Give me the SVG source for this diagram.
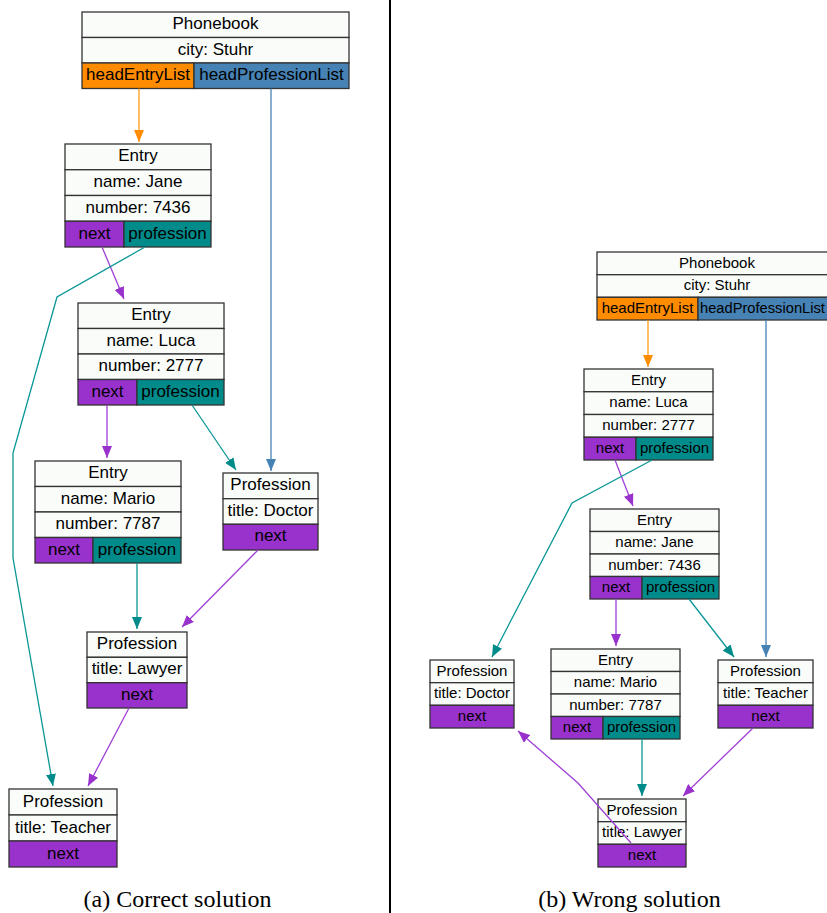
<svg xmlns="http://www.w3.org/2000/svg" width="827" height="913" viewBox="0 0 827 913">
<style>
.c{fill:#f9fcf9;stroke:#333;stroke-width:1.3}
.o{fill:#ff8c00;stroke:#333;stroke-width:1.3}
.b{fill:#4682b4;stroke:#333;stroke-width:1.3}
.p{fill:#9932cc;stroke:#333;stroke-width:1.3}
.t{fill:#008b8b;stroke:#333;stroke-width:1.3}
text{font-family:"Liberation Sans",Arial,sans-serif;fill:#000;text-anchor:middle}
.L text{font-size:17px}
.R text{font-size:15px}
.cap{font-family:"Liberation Serif","Times New Roman",serif;font-size:24px}
.e{fill:none;stroke-width:1.3}
.eo{stroke:#ff9a1a;marker-end:url(#mo)}
.eb{stroke:#4682b4;marker-end:url(#mb)}
.ep{stroke:#a040d8;marker-end:url(#mp)}
.et{stroke:#0a9696;marker-end:url(#mt)}
</style>
<defs>
<marker id="mo" markerUnits="userSpaceOnUse" markerWidth="12" markerHeight="10" refX="12" refY="5" orient="auto"><path d="M0,0L12,5L0,10z" fill="#ff8c00"/></marker>
<marker id="mb" markerUnits="userSpaceOnUse" markerWidth="12" markerHeight="10" refX="12" refY="5" orient="auto"><path d="M0,0L12,5L0,10z" fill="#4682b4"/></marker>
<marker id="mp" markerUnits="userSpaceOnUse" markerWidth="12" markerHeight="10" refX="12" refY="5" orient="auto"><path d="M0,0L12,5L0,10z" fill="#9932cc"/></marker>
<marker id="mt" markerUnits="userSpaceOnUse" markerWidth="12" markerHeight="10" refX="12" refY="5" orient="auto"><path d="M0,0L12,5L0,10z" fill="#008b8b"/></marker>
</defs>
<rect width="827" height="913" fill="#fff"/>
<line x1="390" y1="0" x2="390" y2="913" stroke="#000" stroke-width="2"/>

<g class="L">
<g id="a-phonebook">
<rect class="c" x="82" y="12" width="267" height="25.5"/>
<rect class="c" x="82" y="37.5" width="267" height="25.5"/>
<rect class="o" x="82" y="63" width="112" height="25.5"/>
<rect class="b" x="194" y="63" width="155" height="25.5"/>
<text x="215.5" y="29">Phonebook</text>
<text x="215.5" y="54.5">city: Stuhr</text>
<text x="138" y="80">headEntryList</text>
<text x="271.5" y="80">headProfessionList</text>
</g>
<g id="a-entry-jane">
<rect class="c" x="65" y="144" width="146" height="25.75"/>
<rect class="c" x="65" y="169.75" width="146" height="25.75"/>
<rect class="c" x="65" y="195.5" width="146" height="25.75"/>
<rect class="p" x="65" y="221.25" width="59" height="25.75"/>
<rect class="t" x="124" y="221.25" width="87" height="25.75"/>
<text x="138" y="161">Entry</text>
<text x="138" y="187">name: Jane</text>
<text x="138" y="212.5">number: 7436</text>
<text x="94.5" y="238.5">next</text>
<text x="167.5" y="238.5">profession</text>
</g>
<g id="a-entry-luca">
<rect class="c" x="78" y="303" width="146" height="25.5"/>
<rect class="c" x="78" y="328.5" width="146" height="25.5"/>
<rect class="c" x="78" y="354" width="146" height="25.5"/>
<rect class="p" x="78" y="379.5" width="59" height="25.5"/>
<rect class="t" x="137" y="379.5" width="87" height="25.5"/>
<text x="151" y="320">Entry</text>
<text x="151" y="345.5">name: Luca</text>
<text x="151" y="371">number: 2777</text>
<text x="107.5" y="396.5">next</text>
<text x="180.5" y="396.5">profession</text>
</g>
<g id="a-entry-mario">
<rect class="c" x="35" y="461" width="146" height="25.5"/>
<rect class="c" x="35" y="486.5" width="146" height="25.5"/>
<rect class="c" x="35" y="512" width="146" height="25.5"/>
<rect class="p" x="35" y="537.5" width="58" height="25.5"/>
<rect class="t" x="93" y="537.5" width="88" height="25.5"/>
<text x="108" y="478">Entry</text>
<text x="108" y="503.5">name: Mario</text>
<text x="108" y="529">number: 7787</text>
<text x="64" y="554.5">next</text>
<text x="137" y="554.5">profession</text>
</g>
<g id="a-prof-doctor">
<rect class="c" x="223" y="473" width="95" height="25.7"/>
<rect class="c" x="223" y="498.7" width="95" height="25.6"/>
<rect class="p" x="223" y="524.3" width="95" height="25.7"/>
<text x="270.5" y="490">Profession</text>
<text x="270.5" y="515.7">title: Doctor</text>
<text x="270.5" y="541.3">next</text>
</g>
<g id="a-prof-lawyer">
<rect class="c" x="87" y="632" width="100" height="25.3"/>
<rect class="c" x="87" y="657.3" width="100" height="25.4"/>
<rect class="p" x="87" y="682.7" width="100" height="25.3"/>
<text x="137" y="649">Profession</text>
<text x="137" y="674.3">title: Lawyer</text>
<text x="137" y="699.7">next</text>
</g>
<g id="a-prof-teacher">
<rect class="c" x="9" y="789" width="108" height="26"/>
<rect class="c" x="9" y="815" width="108" height="26"/>
<rect class="p" x="9" y="841" width="108" height="26"/>
<text x="63" y="806.5">Profession</text>
<text x="63" y="832.5">title: Teacher</text>
<text x="63" y="858.5">next</text>
</g>
</g>

<g class="R">
<g id="b-phonebook">
<rect class="c" x="597" y="252" width="240" height="22.7"/>
<rect class="c" x="597" y="274.7" width="240" height="22.6"/>
<rect class="o" x="597" y="297.3" width="101" height="22.7"/>
<rect class="b" x="698" y="297.3" width="139" height="22.7"/>
<text x="717" y="267.5">Phonebook</text>
<text x="717" y="290.2">city: Stuhr</text>
<text x="647.5" y="312.8">headEntryList</text>
<text x="700" y="312.8" style="text-anchor:start;font-size:14.7px">headProfessionList</text>
</g>
<g id="b-entry-luca">
<rect class="c" x="584" y="369" width="129" height="22.75"/>
<rect class="c" x="584" y="391.75" width="129" height="22.75"/>
<rect class="c" x="584" y="414.5" width="129" height="22.75"/>
<rect class="p" x="584" y="437.25" width="52" height="22.75"/>
<rect class="t" x="636" y="437.25" width="77" height="22.75"/>
<text x="648.5" y="384.5">Entry</text>
<text x="648.5" y="407.2">name: Luca</text>
<text x="648.5" y="430">number: 2777</text>
<text x="610" y="452.7">next</text>
<text x="674.5" y="452.7">profession</text>
</g>
<g id="b-entry-jane">
<rect class="c" x="590" y="509" width="129" height="22.5"/>
<rect class="c" x="590" y="531.5" width="129" height="22.5"/>
<rect class="c" x="590" y="554" width="129" height="22.5"/>
<rect class="p" x="590" y="576.5" width="52" height="22.5"/>
<rect class="t" x="642" y="576.5" width="77" height="22.5"/>
<text x="654.5" y="524.5">Entry</text>
<text x="654.5" y="547">name: Jane</text>
<text x="654.5" y="569.5">number: 7436</text>
<text x="616" y="592">next</text>
<text x="680.5" y="592">profession</text>
</g>
<g id="b-entry-mario">
<rect class="c" x="551" y="649" width="129" height="22.5"/>
<rect class="c" x="551" y="671.5" width="129" height="22.5"/>
<rect class="c" x="551" y="694" width="129" height="22.5"/>
<rect class="p" x="551" y="716.5" width="52" height="22.5"/>
<rect class="t" x="603" y="716.5" width="77" height="22.5"/>
<text x="615.5" y="664.5">Entry</text>
<text x="615.5" y="687">name: Mario</text>
<text x="615.5" y="709.5">number: 7787</text>
<text x="577" y="732">next</text>
<text x="641.5" y="732">profession</text>
</g>
<g id="b-prof-doctor">
<rect class="c" x="430" y="660" width="84" height="22.7"/>
<rect class="c" x="430" y="682.7" width="84" height="22.6"/>
<rect class="p" x="430" y="705.3" width="84" height="22.7"/>
<text x="472" y="675.5">Profession</text>
<text x="472" y="698.2">title: Doctor</text>
<text x="472" y="720.8">next</text>
</g>
<g id="b-prof-teacher">
<rect class="c" x="718" y="660" width="95" height="22.7"/>
<rect class="c" x="718" y="682.7" width="95" height="22.6"/>
<rect class="p" x="718" y="705.3" width="95" height="22.7"/>
<text x="765.5" y="675.5">Profession</text>
<text x="765.5" y="698.2">title: Teacher</text>
<text x="765.5" y="720.8">next</text>
</g>
<g id="b-prof-lawyer">
<rect class="c" x="598" y="799" width="88" height="22.7"/>
<rect class="c" x="598" y="821.7" width="88" height="22.6"/>
<rect class="p" x="598" y="844.3" width="88" height="22.7"/>
<text x="642" y="814.5">Profession</text>
<text x="642" y="837.2">title: Lawyer</text>
<text x="642" y="859.8">next</text>
</g>
</g>

<g id="connectors">
<path class="e eo" d="M139,88.5L139,142"/>
<path class="e eb" d="M271,88.5L271,471"/>
<path class="e ep" d="M102,247L124,299"/>
<path class="e et" d="M145,247L57,297L13,453L13,558L53,786"/>
<path class="e ep" d="M107,405L107,458"/>
<path class="e et" d="M192,405L236,470"/>
<path class="e et" d="M137,563L137,629"/>
<path class="e ep" d="M258,550L182,627"/>
<path class="e ep" d="M129,708L88,786"/>
<path class="e eo" d="M648,320L648,367"/>
<path class="e eb" d="M766,320L766,657"/>
<path class="e ep" d="M615,460L633,506"/>
<path class="e et" d="M652,460L572,503L492,657"/>
<path class="e ep" d="M616,599L616,646"/>
<path class="e et" d="M689,599L734,657"/>
<path class="e et" d="M642,739L642,796"/>
<path class="e ep" d="M753,728L683,796"/>
<path class="e ep" d="M631,843L578,783L518,731"/>
</g>

<text class="cap" x="177.5" y="907">(a) Correct solution</text>
<text class="cap" x="629.5" y="907">(b) Wrong solution</text>
</svg>
